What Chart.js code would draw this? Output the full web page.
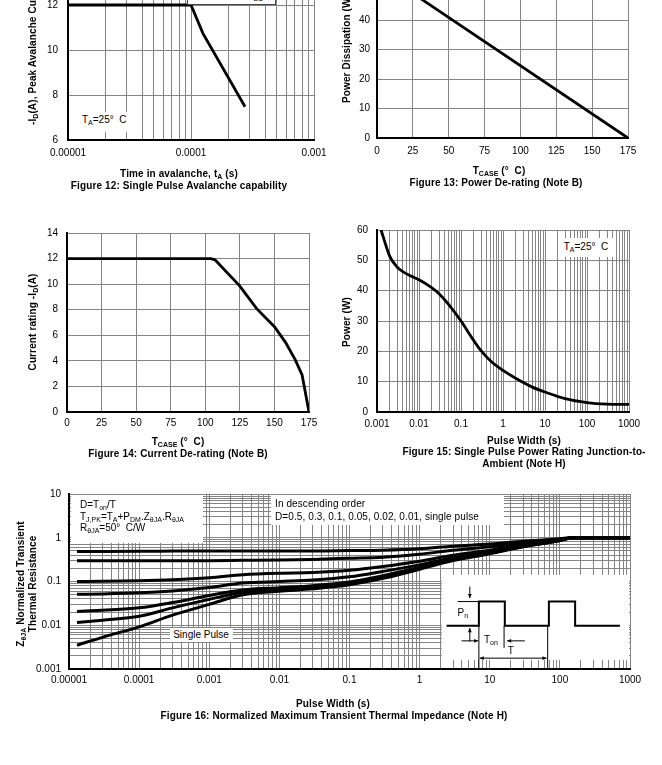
<!DOCTYPE html>
<html>
<head>
<meta charset="utf-8">
<script src="https://cdn.jsdelivr.net/npm/chart.js@4.4.1/dist/chart.umd.min.js"></script>
<style>
  html, body { margin:0; padding:0; background:#fff; }
  body { position:relative; width:662px; height:765px; overflow:hidden; font-family:"Liberation Sans", Arial, Helvetica, sans-serif; color:#000; }
  canvas { position:absolute; }
  .t { position:absolute; white-space:nowrap; font-size:10px; line-height:12px; }
  .b { font-weight:bold; letter-spacing:0.12px; }
  .c { transform:translateX(-50%); text-align:center; }
  .rb { transform-origin:0 0; transform:rotate(-90deg); }
  .rc { transform:translate(-50%,-50%) rotate(-90deg); text-align:center; }
  .box { position:absolute; background:#fff; }
  sub { font-size:7px; line-height:0; vertical-align:-2px; letter-spacing:0; }
</style>
</head>
<body>
<canvas id="c12"></canvas>
<canvas id="c13"></canvas>
<canvas id="c14"></canvas>
<canvas id="c15"></canvas>
<canvas id="c16"></canvas>

<!-- Figure 12 annotations -->
<div class="box" style="left:187px;top:-40px;width:87px;height:43px;border:1px solid #444;"></div>
<div class="t" style="left:200px;top:-22px;">t<sub>A</sub> = L·I<sub>D</sub></div>
<div class="t" style="left:222px;top:-10px;">BV − V<sub>DD</sub></div>
<div class="box" style="left:75px;top:112px;width:60px;height:20px;"></div>
<div class="t" style="left:82px;top:114px;">T<sub>A</sub>=25°&nbsp; C</div>
<div class="t b rb" style="left:27px;top:125px;">-I<sub>D</sub>(A), Peak Avalanche Current (A)</div>
<div class="t b c" style="left:179px;top:168px;">Time in avalanche, t<sub>A</sub> (s)</div>
<div class="t b c" style="left:179px;top:180px;">Figure 12: Single Pulse Avalanche capability</div>

<!-- Figure 13 annotations -->
<div class="t b rb" style="left:341px;top:103px;">Power Dissipation (W)</div>
<div class="t b c" style="left:499px;top:165px;">T<sub>CASE</sub> (°&nbsp; C)</div>
<div class="t b c" style="left:496px;top:177px;">Figure 13: Power De-rating (Note B)</div>

<!-- Figure 14 annotations -->
<div class="t b rc" style="left:33px;top:322px;">Current rating -I<sub>D</sub>(A)</div>
<div class="t b c" style="left:178px;top:436px;">T<sub>CASE</sub> (°&nbsp; C)</div>
<div class="t b c" style="left:178px;top:448px;">Figure 14: Current De-rating (Note B)</div>

<!-- Figure 15 annotations -->
<div class="box" style="left:558px;top:238px;width:58px;height:19px;"></div>
<div class="t c" style="left:586px;top:241px;">T<sub>A</sub>=25°&nbsp; C</div>
<div class="t b rc" style="left:347px;top:322px;">Power (W)</div>
<div class="t b c" style="left:524px;top:435px;">Pulse Width (s)</div>
<div class="t b c" style="left:524px;top:446px;">Figure 15: Single Pulse Power Rating Junction-to-</div>
<div class="t b c" style="left:524px;top:458px;">Ambient (Note H)</div>

<!-- Figure 16 annotations -->
<div class="box" style="left:71px;top:495px;width:132px;height:48px;"></div>
<div class="t" style="left:80px;top:499px;line-height:11.5px;">D=T<sub>on</sub>/T<br>T<sub>J,PK</sub>=T<sub>A</sub>+P<sub>DM</sub>.Z<sub>θJA</sub>.R<sub>θJA</sub><br>R<sub>θJA</sub>=50°&nbsp; C/W</div>
<div class="box" style="left:271px;top:495px;width:233px;height:30px;"></div>
<div class="t" style="left:275px;top:497px;line-height:13px;letter-spacing:0.1px;">In descending order<br>D=0.5, 0.3, 0.1, 0.05, 0.02, 0.01, single pulse</div>
<div class="box" style="left:170px;top:628px;width:63px;height:14px;"></div>
<div class="t c" style="left:201px;top:629px;">Single Pulse</div>
<div class="t b rc" style="left:26px;top:584px;line-height:11.5px;">Z<sub>θJA</sub> Normalized Transient<br>Thermal Resistance</div>
<div class="t b c" style="left:333px;top:698px;">Pulse Width (s)</div>
<div class="t b c" style="left:334px;top:710px;">Figure 16: Normalized Maximum Transient Thermal Impedance (Note H)</div>

<script>
// ================= DATA =================
// Figure 12: Single pulse avalanche capability
const fig12Time = [0.00001, 0.0001, 0.000125, 0.000275];
const fig12Current = [12, 12, 10.74, 7.48];
const fig12XTickLabels = ['0.00001', '0.0001', '0.001'];
const fig12YTicks = [6, 8, 10, 12, 14];

// Figure 13: Power de-rating
const fig13Temp = [25, 175];
const fig13Power = [49, 0];
const fig13XTicks = [0, 25, 50, 75, 100, 125, 150, 175];
const fig13YTicks = [0, 10, 20, 30, 40, 50, 60];

// Figure 14: Current de-rating
const fig14Temp = [0, 104, 107, 125, 137, 150, 158, 165, 170, 175];
const fig14Current = [12, 12, 11.9, 9.85, 8.1, 6.67, 5.45, 4.1, 2.9, 0];
const fig14XTicks = [0, 25, 50, 75, 100, 125, 150, 175];
const fig14YTicks = [0, 2, 4, 6, 8, 10, 12, 14];

// Figure 15: Single pulse power rating
const fig15Width = [0.00125, 0.002, 0.003, 0.0042, 0.006, 0.01, 0.02, 0.03, 0.05, 0.1, 0.2, 0.3, 0.5, 1, 2, 5, 10, 30, 100, 300, 1000];
const fig15Power = [60, 51.4, 47.8, 46.2, 45.0, 43.6, 41.0, 39.0, 35.6, 30.0, 23.6, 20.2, 16.9, 13.7, 11.1, 8.2, 6.6, 4.4, 3.1, 2.6, 2.5];
const fig15XTickLabels = ['0.001', '0.01', '0.1', '1', '10', '100', '1000'];
const fig15YTicks = [0, 10, 20, 30, 40, 50, 60];

// Figure 16: Normalized transient thermal impedance
const fig16Width = [1.3e-5, 3e-5, 1e-4, 3e-4, 1e-3, 3e-3, 1e-2, 3e-2, 0.1, 0.3, 1, 3, 10, 30, 100, 150, 1000];
const fig16D050 = [0.486, 0.487, 0.49, 0.495, 0.5, 0.5, 0.5, 0.5, 0.51, 0.52, 0.56, 0.64, 0.72, 0.83, 0.95, 1.0, 1.0];
const fig16D030 = [0.297, 0.297, 0.298, 0.3, 0.3, 0.305, 0.31, 0.32, 0.34, 0.36, 0.42, 0.52, 0.62, 0.76, 0.93, 1.0, 1.0];
const fig16D010 = [0.1, 0.101, 0.104, 0.11, 0.122, 0.143, 0.155, 0.16, 0.18, 0.22, 0.29, 0.4, 0.52, 0.69, 0.9, 1.0, 1.0];
const fig16D005 = [0.051, 0.052, 0.055, 0.061, 0.073, 0.092, 0.1, 0.108, 0.128, 0.17, 0.24, 0.35, 0.48, 0.66, 0.88, 1.0, 1.0];
const fig16D002 = [0.0206, 0.022, 0.025, 0.033, 0.048, 0.064, 0.072, 0.08, 0.097, 0.135, 0.21, 0.32, 0.45, 0.64, 0.87, 1.0, 1.0];
const fig16D001 = [0.0115, 0.013, 0.016, 0.025, 0.039, 0.057, 0.066, 0.074, 0.09, 0.127, 0.2, 0.31, 0.44, 0.63, 0.86, 1.0, 1.0];
const fig16Single = [0.0035, 0.0053, 0.0092, 0.017, 0.03, 0.05, 0.06, 0.068, 0.084, 0.118, 0.19, 0.3, 0.43, 0.62, 0.86, 1.0, 1.0];
const fig16XTickLabels = ['0.00001', '0.0001', '0.001', '0.01', '0.1', '1', '10', '100', '1000'];
const fig16YTickLabels = ['0.001', '0.01', '0.1', '1', '10'];

// Figure 16 inset: pulse train schematic (in data units of the chart)
const pulseX = [2.42, 7.0, 7.0, 16.4, 16.4, 69.7, 69.7, 165, 165, 718];
const pulseY = [0.0097, 0.0097, 0.0348, 0.0348, 0.0097, 0.0097, 0.0348, 0.0348, 0.0097, 0.0097];

// ================= HELPERS =================
const FONT = { family: "'Liberation Sans', Arial, Helvetica, sans-serif", size: 10 };
const GRID = '#848484';

function logGrid(minExp, maxExp) {
  const v = [];
  for (let e = minExp; e < maxExp; e++) for (let m = 1; m < 10; m++) v.push(m * Math.pow(10, e));
  v.push(Math.pow(10, maxExp));
  return v;
}
function logLabel(labels, minExp) {
  return function (value) {
    const lg = Math.log10(value), r = Math.round(lg);
    return Math.abs(lg - r) < 1e-6 ? (labels[r - minExp] || '') : '';
  };
}
function linLabel(value) { return String(value); }

function axis(type, min, max, tickVals, labelFn, pad) {
  return {
    type, min, max,
    border: { display: true, color: '#000', width: 2 },
    grid: { color: GRID, lineWidth: 1, drawTicks: false },
    ticks: { autoSkip: false, maxRotation: 0, minRotation: 0, padding: pad, color: '#000', font: FONT, callback: labelFn },
    afterBuildTicks: s => { s.ticks = tickVals.map(v => ({ value: v })); }
  };
}
function series(xs, ys, extra) {
  return Object.assign({
    data: xs.map((x, i) => ({ x, y: ys[i] })),
    showLine: true, borderColor: '#000', backgroundColor: '#000',
    borderWidth: 2.8, pointRadius: 0, tension: 0, fill: false
  }, extra || {});
}

function makeChart(id, box, datasets, xAxis, yAxis, plugins) {
  const yW = 45, xH = 30, padTop = 8, padRight = 20;
  const cv = document.getElementById(id);
  const w = box.R - box.L + yW + padRight, h = box.B - box.T + padTop + xH;
  cv.width = w; cv.height = h;
  cv.style.width = w + 'px'; cv.style.height = h + 'px';
  cv.style.left = (box.L - yW) + 'px'; cv.style.top = (box.T - padTop) + 'px';
  xAxis.afterFit = s => { s.height = xH; s.paddingLeft = 0; s.paddingRight = 0; s.paddingTop = 0; s.paddingBottom = 0; };
  yAxis.afterFit = s => { s.width = yW; s.paddingLeft = 0; s.paddingRight = 0; s.paddingTop = 0; s.paddingBottom = 0; };
  return new Chart(cv, {
    type: 'scatter',
    data: { datasets },
    options: {
      responsive: false, animation: false, events: [],
      layout: { padding: { top: padTop, right: padRight, left: 0, bottom: 0 } },
      plugins: { legend: { display: false }, tooltip: { enabled: false } },
      scales: { x: xAxis, y: yAxis }
    },
    plugins: plugins || []
  });
}

// ================= FIGURE 12 =================
makeChart('c12', { L: 68, R: 314, T: -40, B: 140 },
  [series(fig12Time, fig12Current)],
  axis('logarithmic', 1e-5, 1e-3, logGrid(-5, -3), logLabel(fig12XTickLabels, -5), 7),
  axis('linear', 6, 14, fig12YTicks, linLabel, 10));

// ================= FIGURE 13 =================
makeChart('c13', { L: 377, R: 628, T: -39, B: 138 },
  [series(fig13Temp, fig13Power)],
  axis('linear', 0, 175, fig13XTicks, linLabel, 7),
  axis('linear', 0, 60, fig13YTicks, linLabel, 7));

// ================= FIGURE 14 =================
makeChart('c14', { L: 67, R: 309, T: 233, B: 412 },
  [series(fig14Temp, fig14Current)],
  axis('linear', 0, 175, fig14XTicks, linLabel, 5),
  axis('linear', 0, 14, fig14YTicks, linLabel, 9));

// ================= FIGURE 15 =================
makeChart('c15', { L: 377, R: 629, T: 230, B: 412 },
  [series(fig15Width, fig15Power, { cubicInterpolationMode: 'monotone', tension: 0.4 })],
  axis('logarithmic', 0.001, 1000, logGrid(-3, 3), logLabel(fig15XTickLabels, -3), 6),
  axis('linear', 0, 60, fig15YTicks, linLabel, 9));

// ================= FIGURE 16 =================
const insetGeom = {
  boxLeft: 2.07, boxTop: 0.142, boxBottom: 0.00162,
  refLine: { x1: 3.5, x2: 7.0, y: 0.0348 },
  downArrow: { x: 5.2, y1: 0.0769, y2: 0.0417 },
  upArrow: { x: 5.2, y1: 0.00424, y2: 0.0086 },
  tonLeft: { x1: 3.96, x2: 6.84, y: 0.0044 },
  tonRight: { x1: 31.6, x2: 17.7, y: 0.0044 },
  vLines: [{ x: 7.0, y1: 0.0097, y2: 0.001 }, { x: 16.0, y1: 0.0097, y2: 0.00304 }, { x: 67, y1: 0.0097, y2: 0.001 }],
  tArrow: { x1: 7.2, x2: 64.6, y: 0.00177 },
  labelP: { x: 4.13, y: 0.0192 },
  labelTon: { x: 10.4, y: 0.0046 },
  labelT: { x: 20, y: 0.00259 }
};
function arrow(ctx, x1, y1, x2, y2, both) {
  const head = (ax, ay, bx, by) => {
    const a = Math.atan2(by - ay, bx - ax), s = 4.5;
    ctx.beginPath();
    ctx.moveTo(bx, by);
    ctx.lineTo(bx - s * Math.cos(a - 0.45), by - s * Math.sin(a - 0.45));
    ctx.lineTo(bx - s * Math.cos(a + 0.45), by - s * Math.sin(a + 0.45));
    ctx.closePath(); ctx.fill();
  };
  ctx.beginPath(); ctx.moveTo(x1, y1); ctx.lineTo(x2, y2); ctx.stroke();
  head(x1, y1, x2, y2);
  if (both) head(x2, y2, x1, y1);
}
function subText(ctx, main, sub, cx, cy) {
  ctx.font = "10px 'Liberation Sans', Arial, sans-serif";
  const w1 = ctx.measureText(main).width;
  ctx.font = "7px 'Liberation Sans', Arial, sans-serif";
  const w2 = sub ? ctx.measureText(sub).width : 0;
  const x0 = cx - (w1 + w2) / 2;
  ctx.textBaseline = 'middle'; ctx.textAlign = 'left';
  ctx.font = "10px 'Liberation Sans', Arial, sans-serif";
  ctx.fillText(main, x0, cy);
  if (sub) { ctx.font = "7px 'Liberation Sans', Arial, sans-serif"; ctx.fillText(sub, x0 + w1, cy + 3); }
}
const insetPlugin = {
  id: 'inset',
  beforeDatasetsDraw(chart) {
    const { ctx, chartArea } = chart, X = chart.scales.x, Y = chart.scales.y, g = insetGeom;
    const l = X.getPixelForValue(g.boxLeft), t = Y.getPixelForValue(g.boxTop), b = Y.getPixelForValue(g.boxBottom);
    ctx.save(); ctx.fillStyle = '#fff'; ctx.fillRect(l, t, chartArea.right - 1 - l, b - t); ctx.restore();
  },
  afterDatasetsDraw(chart) {
    const { ctx, chartArea } = chart, X = chart.scales.x, Y = chart.scales.y, g = insetGeom;
    const px = v => X.getPixelForValue(v), py = v => Y.getPixelForValue(v);
    ctx.save();
    ctx.strokeStyle = '#000'; ctx.fillStyle = '#000'; ctx.lineWidth = 1;
    ctx.beginPath(); ctx.moveTo(px(g.refLine.x1), py(g.refLine.y)); ctx.lineTo(px(g.refLine.x2), py(g.refLine.y)); ctx.stroke();
    g.vLines.forEach(v => {
      ctx.beginPath(); ctx.moveTo(px(v.x), py(v.y1)); ctx.lineTo(px(v.x), Math.min(py(v.y2), chartArea.bottom)); ctx.stroke();
    });
    arrow(ctx, px(g.downArrow.x), py(g.downArrow.y1), px(g.downArrow.x), py(g.downArrow.y2));
    arrow(ctx, px(g.upArrow.x), py(g.upArrow.y1), px(g.upArrow.x), py(g.upArrow.y2));
    arrow(ctx, px(g.tonLeft.x1), py(g.tonLeft.y), px(g.tonLeft.x2), py(g.tonLeft.y));
    arrow(ctx, px(g.tonRight.x1), py(g.tonRight.y), px(g.tonRight.x2), py(g.tonRight.y));
    arrow(ctx, px(g.tArrow.x1), py(g.tArrow.y), px(g.tArrow.x2), py(g.tArrow.y), true);
    subText(ctx, 'P', 'n', px(g.labelP.x), py(g.labelP.y));
    subText(ctx, 'T', 'on', px(g.labelTon.x), py(g.labelTon.y));
    subText(ctx, 'T', '', px(g.labelT.x), py(g.labelT.y));
    ctx.restore();
  }
};
const smooth = { cubicInterpolationMode: 'monotone', tension: 0.4, borderWidth: 3 };
makeChart('c16', { L: 69, R: 630, T: 494, B: 669 },
  [
    series(fig16Width, fig16D050, smooth),
    series(fig16Width, fig16D030, smooth),
    series(fig16Width, fig16D010, smooth),
    series(fig16Width, fig16D005, smooth),
    series(fig16Width, fig16D002, smooth),
    series(fig16Width, fig16D001, smooth),
    series(fig16Width, fig16Single, smooth),
    series(pulseX, pulseY, { borderWidth: 2 })
  ],
  axis('logarithmic', 1e-5, 1000, logGrid(-5, 3), logLabel(fig16XTickLabels, -5), 5),
  axis('logarithmic', 0.001, 10, logGrid(-3, 1), logLabel(fig16YTickLabels, -3), 8),
  [insetPlugin]);
</script>
</body>
</html>
